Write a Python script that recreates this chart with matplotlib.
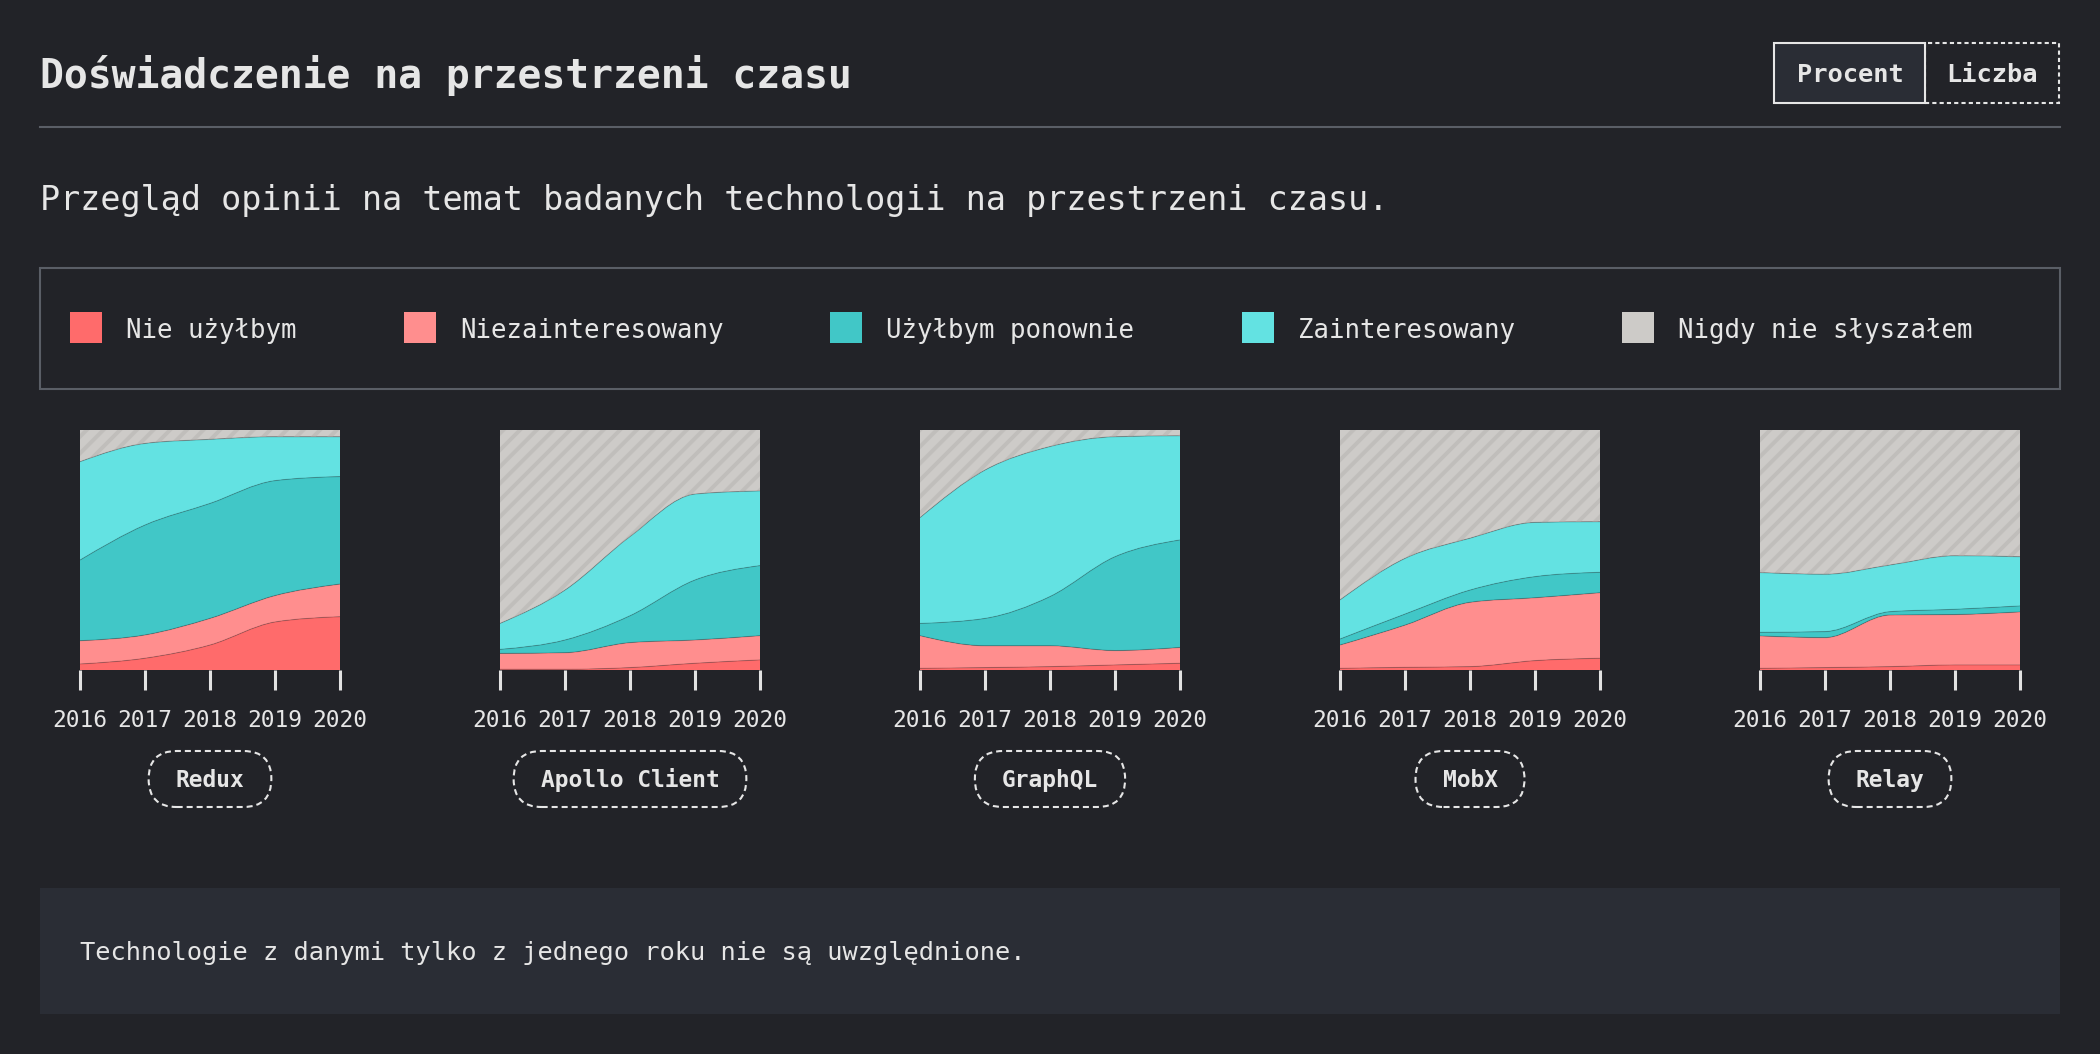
import numpy as np
import matplotlib.pyplot as plt
from matplotlib.path import Path
from matplotlib.patches import PathPatch, Rectangle, FancyBboxPatch
from matplotlib.transforms import IdentityTransform

plt.rcParams['font.family'] = 'DejaVu Sans Mono'
plt.rcParams['hatch.linewidth'] = 2.8

years = [2016, 2017, 2018, 2019, 2020]
categories = ["Nie użyłbym", "Niezainteresowany", "Użyłbym ponownie",
              "Zainteresowany", "Nigdy nie słyszałem"]
colors = ["#FF6B6B", "#FF8E8E", "#41C7C7", "#63E2E2", "#CDCBC8"]
technologies = ["Redux", "Apollo Client", "GraphQL", "MobX", "Relay"]

# shares in %, one row per category (same order as categories)
redux = [
    [2.5, 4.9, 10.4, 20.0, 22.2],
    [9.7, 9.7, 11.1, 11.0, 13.6],
    [33.6, 45.8, 47.9, 47.9, 44.8],
    [41.0, 34.0, 26.7, 18.3, 16.6],
    [13.2, 5.6, 3.9, 2.8, 2.8],
]
apollo = [
    [0.3, 0.3, 1.0, 2.8, 4.2],
    [6.6, 6.9, 10.4, 9.7, 10.1],
    [1.7, 5.3, 11.2, 25.0, 29.2],
    [10.8, 20.8, 33.0, 35.8, 31.1],
    [80.6, 66.7, 44.4, 26.7, 25.4],
]
graphql = [
    [0.7, 1.0, 1.4, 2.1, 2.8],
    [13.6, 9.1, 8.7, 6.0, 6.6],
    [5.1, 11.4, 20.5, 39.1, 44.8],
    [44.1, 61.8, 62.5, 50.0, 43.4],
    [36.5, 16.7, 6.9, 2.8, 2.4],
]
mobx = [
    [0.7, 1.1, 1.4, 3.9, 4.9],
    [9.7, 17.6, 26.8, 26.2, 27.3],
    [2.5, 4.6, 5.1, 8.8, 8.5],
    [16.3, 23.2, 21.6, 22.6, 21.1],
    [70.8, 53.5, 45.1, 38.5, 38.2],
]
relay = [
    [0.7, 1.0, 1.4, 2.1, 2.1],
    [13.5, 12.5, 21.5, 21.0, 22.1],
    [1.5, 2.5, 1.4, 2.2, 2.5],
    [24.9, 23.9, 19.45, 22.3, 20.5],
    [59.4, 60.1, 56.25, 52.4, 52.8],
]
shares = [redux, apollo, graphql, mobx, relay]

BG = "#222328"
PANEL = "#2A2D35"
TEXT = "#E6E6E6"
RULE = "#5A5E66"
W, H = 2100, 1054


def fx(px):
    return px / W


def fy(py):
    return 1 - py / H


def monotone_tangents(x, y):
    # same slopes as d3.curveMonotoneX
    x = np.asarray(x, float)
    y = np.asarray(y, float)
    h = np.diff(x)
    s = np.diff(y) / h
    n = len(x)
    t = np.zeros(n)
    for i in range(1, n - 1):
        p = (s[i - 1] * h[i] + s[i] * h[i - 1]) / (h[i - 1] + h[i])
        t[i] = (np.sign(s[i - 1]) + np.sign(s[i])) * min(abs(s[i - 1]), abs(s[i]), 0.5 * abs(p))
    t[0] = (3 * s[0] - t[1]) / 2
    t[-1] = (3 * s[-1] - t[-2]) / 2
    return t


def curve_verts(x, y):
    t = monotone_tangents(x, y)
    verts = [(x[0], y[0])]
    for i in range(len(x) - 1):
        h = x[i + 1] - x[i]
        verts += [(x[i] + h / 3, y[i] + h / 3 * t[i]),
                  (x[i + 1] - h / 3, y[i + 1] - h / 3 * t[i + 1]),
                  (x[i + 1], y[i + 1])]
    return verts


def band_path(x, lower, upper):
    up = curve_verts(x, upper)
    lo = curve_verts(x, lower)[::-1]
    m = len(up) - 1
    codes = [Path.MOVETO] + [Path.CURVE4] * m + [Path.LINETO] + [Path.CURVE4] * m + [Path.CLOSEPOLY]
    return Path(up + lo + [up[0]], codes)


fig = plt.figure(figsize=(21, 10.54), dpi=100, facecolor=BG)

# header
fig.text(fx(40), fy(88), "Doświadczenie na przestrzeni czasu", fontsize=28.6,
         fontweight='bold', color=TEXT, va='baseline')
fig.add_artist(plt.Line2D([fx(40), fx(2060)], [fy(127), fy(127)], color=RULE, lw=1.5))
fig.add_artist(Rectangle((fx(1925), fy(103)), (2059 - 1925) / W, 60 / H, transform=fig.transFigure,
                         facecolor='none', edgecolor=TEXT, lw=1.5, linestyle=(0, (2, 1.5))))
fig.add_artist(Rectangle((fx(1774), fy(103)), (1925 - 1774) / W, 60 / H, transform=fig.transFigure,
                         facecolor=PANEL, edgecolor=TEXT, lw=1.5))
fig.text(fx(1850), fy(82), "Procent", fontsize=18.3, fontweight='bold', color=TEXT,
         ha='center', va='baseline')
fig.text(fx(1992), fy(82), "Liczba", fontsize=18.3, fontweight='bold', color=TEXT,
         ha='center', va='baseline')

fig.text(fx(40), fy(210), "Przegląd opinii na temat badanych technologii na przestrzeni czasu.",
         fontsize=24, color=TEXT, va='baseline')

# legend
fig.add_artist(Rectangle((fx(40), fy(389)), 2020 / W, 121 / H, transform=fig.transFigure,
                         facecolor='none', edgecolor=RULE, lw=1.5))
legend_x = [70, 404, 830, 1242, 1622]
for lx, cat, col in zip(legend_x, categories, colors):
    fig.add_artist(Rectangle((fx(lx), fy(343)), 32 / W, 31 / H, transform=fig.transFigure,
                             facecolor=col, edgecolor='none'))
    fig.text(fx(lx + 56), fy(338), cat, fontsize=18.5, color=TEXT, va='baseline')

# small stacked area charts
renderer = fig.canvas.get_renderer()
for i, (name, data) in enumerate(zip(technologies, shares)):
    left = 80 + 420 * i
    ax = fig.add_axes([fx(left), fy(670), 260 / W, 240 / H])
    vals = np.array(data, float)
    cum = np.cumsum(vals, axis=0) / vals.sum(axis=0)
    lower = np.zeros(len(years))
    for k in range(len(categories)):
        upper = cum[k]
        if k == len(categories) - 1:
            patch = PathPatch(band_path(years, lower, upper), facecolor=colors[k],
                              edgecolor='#C0BEBB', lw=0, hatch='//')
        else:
            patch = PathPatch(band_path(years, lower, upper), facecolor=colors[k],
                              edgecolor='none', lw=0)
        ax.add_patch(patch)
        lower = upper
    # thin separators between layers
    for k in range(len(categories) - 1):
        verts = curve_verts(years, cum[k])
        codes = [Path.MOVETO] + [Path.CURVE4] * (len(verts) - 1)
        ax.add_patch(PathPatch(Path(verts, codes), fill=False, edgecolor=(0, 0, 0, 0.18), lw=0.8))

    ax.set_xlim(years[0], years[-1])
    ax.set_ylim(0, 1)
    ax.set_facecolor(BG)
    for sp in ax.spines.values():
        sp.set_visible(False)
    ax.set_yticks([])
    ax.set_xticks(years, labels=[str(y) for y in years])
    ax.tick_params(axis='x', length=14.4, width=2.2, color='#E2E2E2', pad=14,
                   labelsize=16.5, labelcolor=TEXT)

    cx = left + 130
    t = fig.text(fx(cx), fy(787), name, fontsize=16.5, fontweight='bold', color=TEXT,
                 ha='center', va='baseline')
    tw = t.get_window_extent(renderer).width
    cw, ch = tw + 54, 56
    fig.add_artist(FancyBboxPatch((cx - cw / 2, H - 779 - ch / 2), cw, ch,
                                  boxstyle="round,pad=0,rounding_size=28",
                                  transform=IdentityTransform(), facecolor='none',
                                  edgecolor=TEXT, lw=1.5, linestyle=(0, (2.9, 1.9))))

# footnote
fig.add_artist(Rectangle((fx(40), fy(1014)), 2020 / W, 126 / H, transform=fig.transFigure,
                         facecolor=PANEL, edgecolor='none'))
fig.text(fx(80), fy(960), "Technologie z danymi tylko z jednego roku nie są uwzględnione.",
         fontsize=18.3, color=TEXT, va='baseline')

fig.savefig("out.png", dpi=100, facecolor=BG)
